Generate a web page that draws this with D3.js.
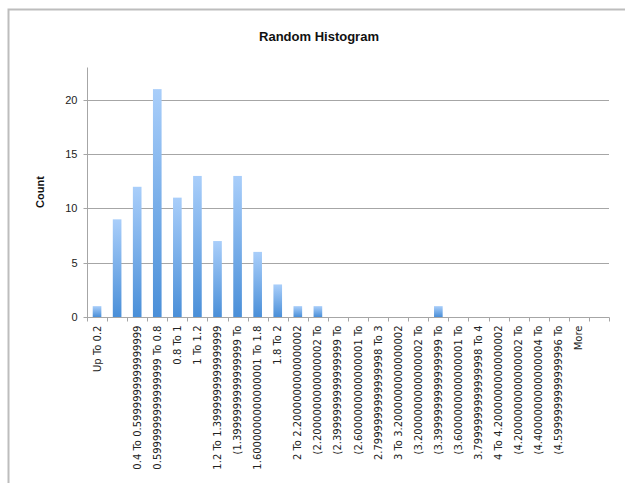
<!DOCTYPE html>
<html>
<head>
<meta charset="utf-8">
<script src="https://cdn.jsdelivr.net/npm/d3@7"></script>
<style>
  html, body { margin: 0; padding: 0; background: #fff; }
  svg { display: block; }
</style>
</head>
<body>
<script>
const title = "Random Histogram";
const yTitle = "Count";
const categories = [
  "Up To 0.2",
  "",
  "0.4 To 0.5999999999999999",
  "0.5999999999999999 To 0.8",
  "0.8 To 1",
  "1 To 1.2",
  "1.2 To 1.3999999999999999",
  "(1.3999999999999999 To",
  "1.6000000000000001 To 1.8",
  "1.8 To 2",
  "2 To 2.2000000000000002",
  "(2.2000000000000002 To",
  "(2.3999999999999999 To",
  "(2.6000000000000001 To",
  "2.7999999999999998 To 3",
  "3 To 3.2000000000000002",
  "(3.2000000000000002 To",
  "(3.3999999999999999 To",
  "(3.6000000000000001 To",
  "3.7999999999999998 To 4",
  "4 To 4.2000000000000002",
  "(4.2000000000000002 To",
  "(4.4000000000000004 To",
  "(4.5999999999999996 To",
  "More",
  ""
];
const counts = [1, 9, 12, 21, 11, 13, 7, 13, 6, 3, 1, 1, 0, 0, 0, 0, 0, 1, 0, 0, 0, 0, 0, 0, 0, 0];
const yTicks = [0, 5, 10, 15, 20];
const yMax = 23.04;

const W = 625, H = 483;
const pLeft = 87, pRight = 609, pTop = 67, pBottom = 317;

const svg = d3.select("body").append("svg").attr("width", W).attr("height", H);

// gradient for bars
const defs = svg.append("defs");
const grad = defs.append("linearGradient").attr("id", "barGrad")
  .attr("x1", 0).attr("y1", 0).attr("x2", 0).attr("y2", 1);
grad.append("stop").attr("offset", "0%").attr("stop-color", "#a9cefa");
grad.append("stop").attr("offset", "100%").attr("stop-color", "#4a8fd8");

// frame
svg.append("path")
  .attr("d", `M8.5,${H + 5} L8.5,9.5 L${W + 5},9.5`)
  .attr("fill", "none").attr("stroke", "#bdbdbd").attr("stroke-width", 2);

const idx = categories.map((d, i) => i);
const x = d3.scaleBand().domain(idx).range([pLeft, pRight]).paddingInner(0).paddingOuter(0);
const y = d3.scaleLinear().domain([0, yMax]).range([pBottom, pTop]);

// gridlines
svg.append("g").selectAll("line").data(yTicks.filter(t => t > 0)).join("line")
  .attr("x1", pLeft).attr("x2", pRight)
  .attr("y1", d => Math.round(y(d)) + 0.5).attr("y2", d => Math.round(y(d)) + 0.5)
  .attr("stroke", "#a6a6a6").attr("stroke-width", 1);

// bars
const bw = x.bandwidth() * 0.43;
svg.append("g").selectAll("rect").data(counts).join("rect")
  .attr("x", (d, i) => x(i) + (x.bandwidth() - bw) / 2)
  .attr("width", bw)
  .attr("y", d => y(d))
  .attr("height", d => pBottom - y(d))
  .attr("fill", "url(#barGrad)");

// y axis
const yAxis = d3.axisLeft(y).tickValues(yTicks).tickSize(4).tickPadding(6).tickFormat(d3.format("d"));
const gy = svg.append("g").attr("transform", `translate(${pLeft + 0.5},0.5)`).call(yAxis);
gy.select(".domain").attr("d", `M0,${Math.round(y(0))}V${pTop}`).attr("stroke", "#a6a6a6");
gy.selectAll(".tick line").attr("stroke", "#a6a6a6");
gy.selectAll(".tick").attr("transform", d => `translate(0,${Math.round(y(d))})`);
gy.selectAll("text").attr("font-family", "Liberation Sans, Arial, sans-serif").attr("font-size", 11).attr("fill", "#222");

// x axis
const gx = svg.append("g").attr("transform", `translate(0,${Math.round(pBottom) + 0.5})`);
gx.append("line").attr("x1", pLeft).attr("x2", pRight + 0.5).attr("y1", 0).attr("y2", 0).attr("stroke", "#a6a6a6");
const bounds = idx.map(i => x(i)).concat([pRight]);
gx.selectAll("line.tk").data(bounds).join("line").attr("class", "tk")
  .attr("x1", d => Math.round(d) + 0.5).attr("x2", d => Math.round(d) + 0.5)
  .attr("y1", 0).attr("y2", 4).attr("stroke", "#a6a6a6");
gx.selectAll("text").data(categories).join("text")
  .attr("transform", (d, i) => `translate(${x(i) + x.bandwidth() / 2},8) rotate(-90)`)
  .attr("text-anchor", "end").attr("dy", "0.35em")
  .attr("font-family", "DejaVu Sans, Verdana, sans-serif").attr("font-size", 10).attr("fill", "#222")
  .text(d => d);

// title
svg.append("text").attr("x", 319).attr("y", 41).attr("text-anchor", "middle")
  .attr("font-family", "Liberation Sans, Arial, sans-serif").attr("font-weight", "bold")
  .attr("font-size", 13).attr("fill", "#111").text(title);

// y title
svg.append("text").attr("transform", `translate(44,${(pTop + pBottom) / 2}) rotate(-90)`)
  .attr("text-anchor", "middle")
  .attr("font-family", "Liberation Sans, Arial, sans-serif").attr("font-weight", "bold")
  .attr("font-size", 11).attr("fill", "#111").text(yTitle);
</script>
</body>
</html>
